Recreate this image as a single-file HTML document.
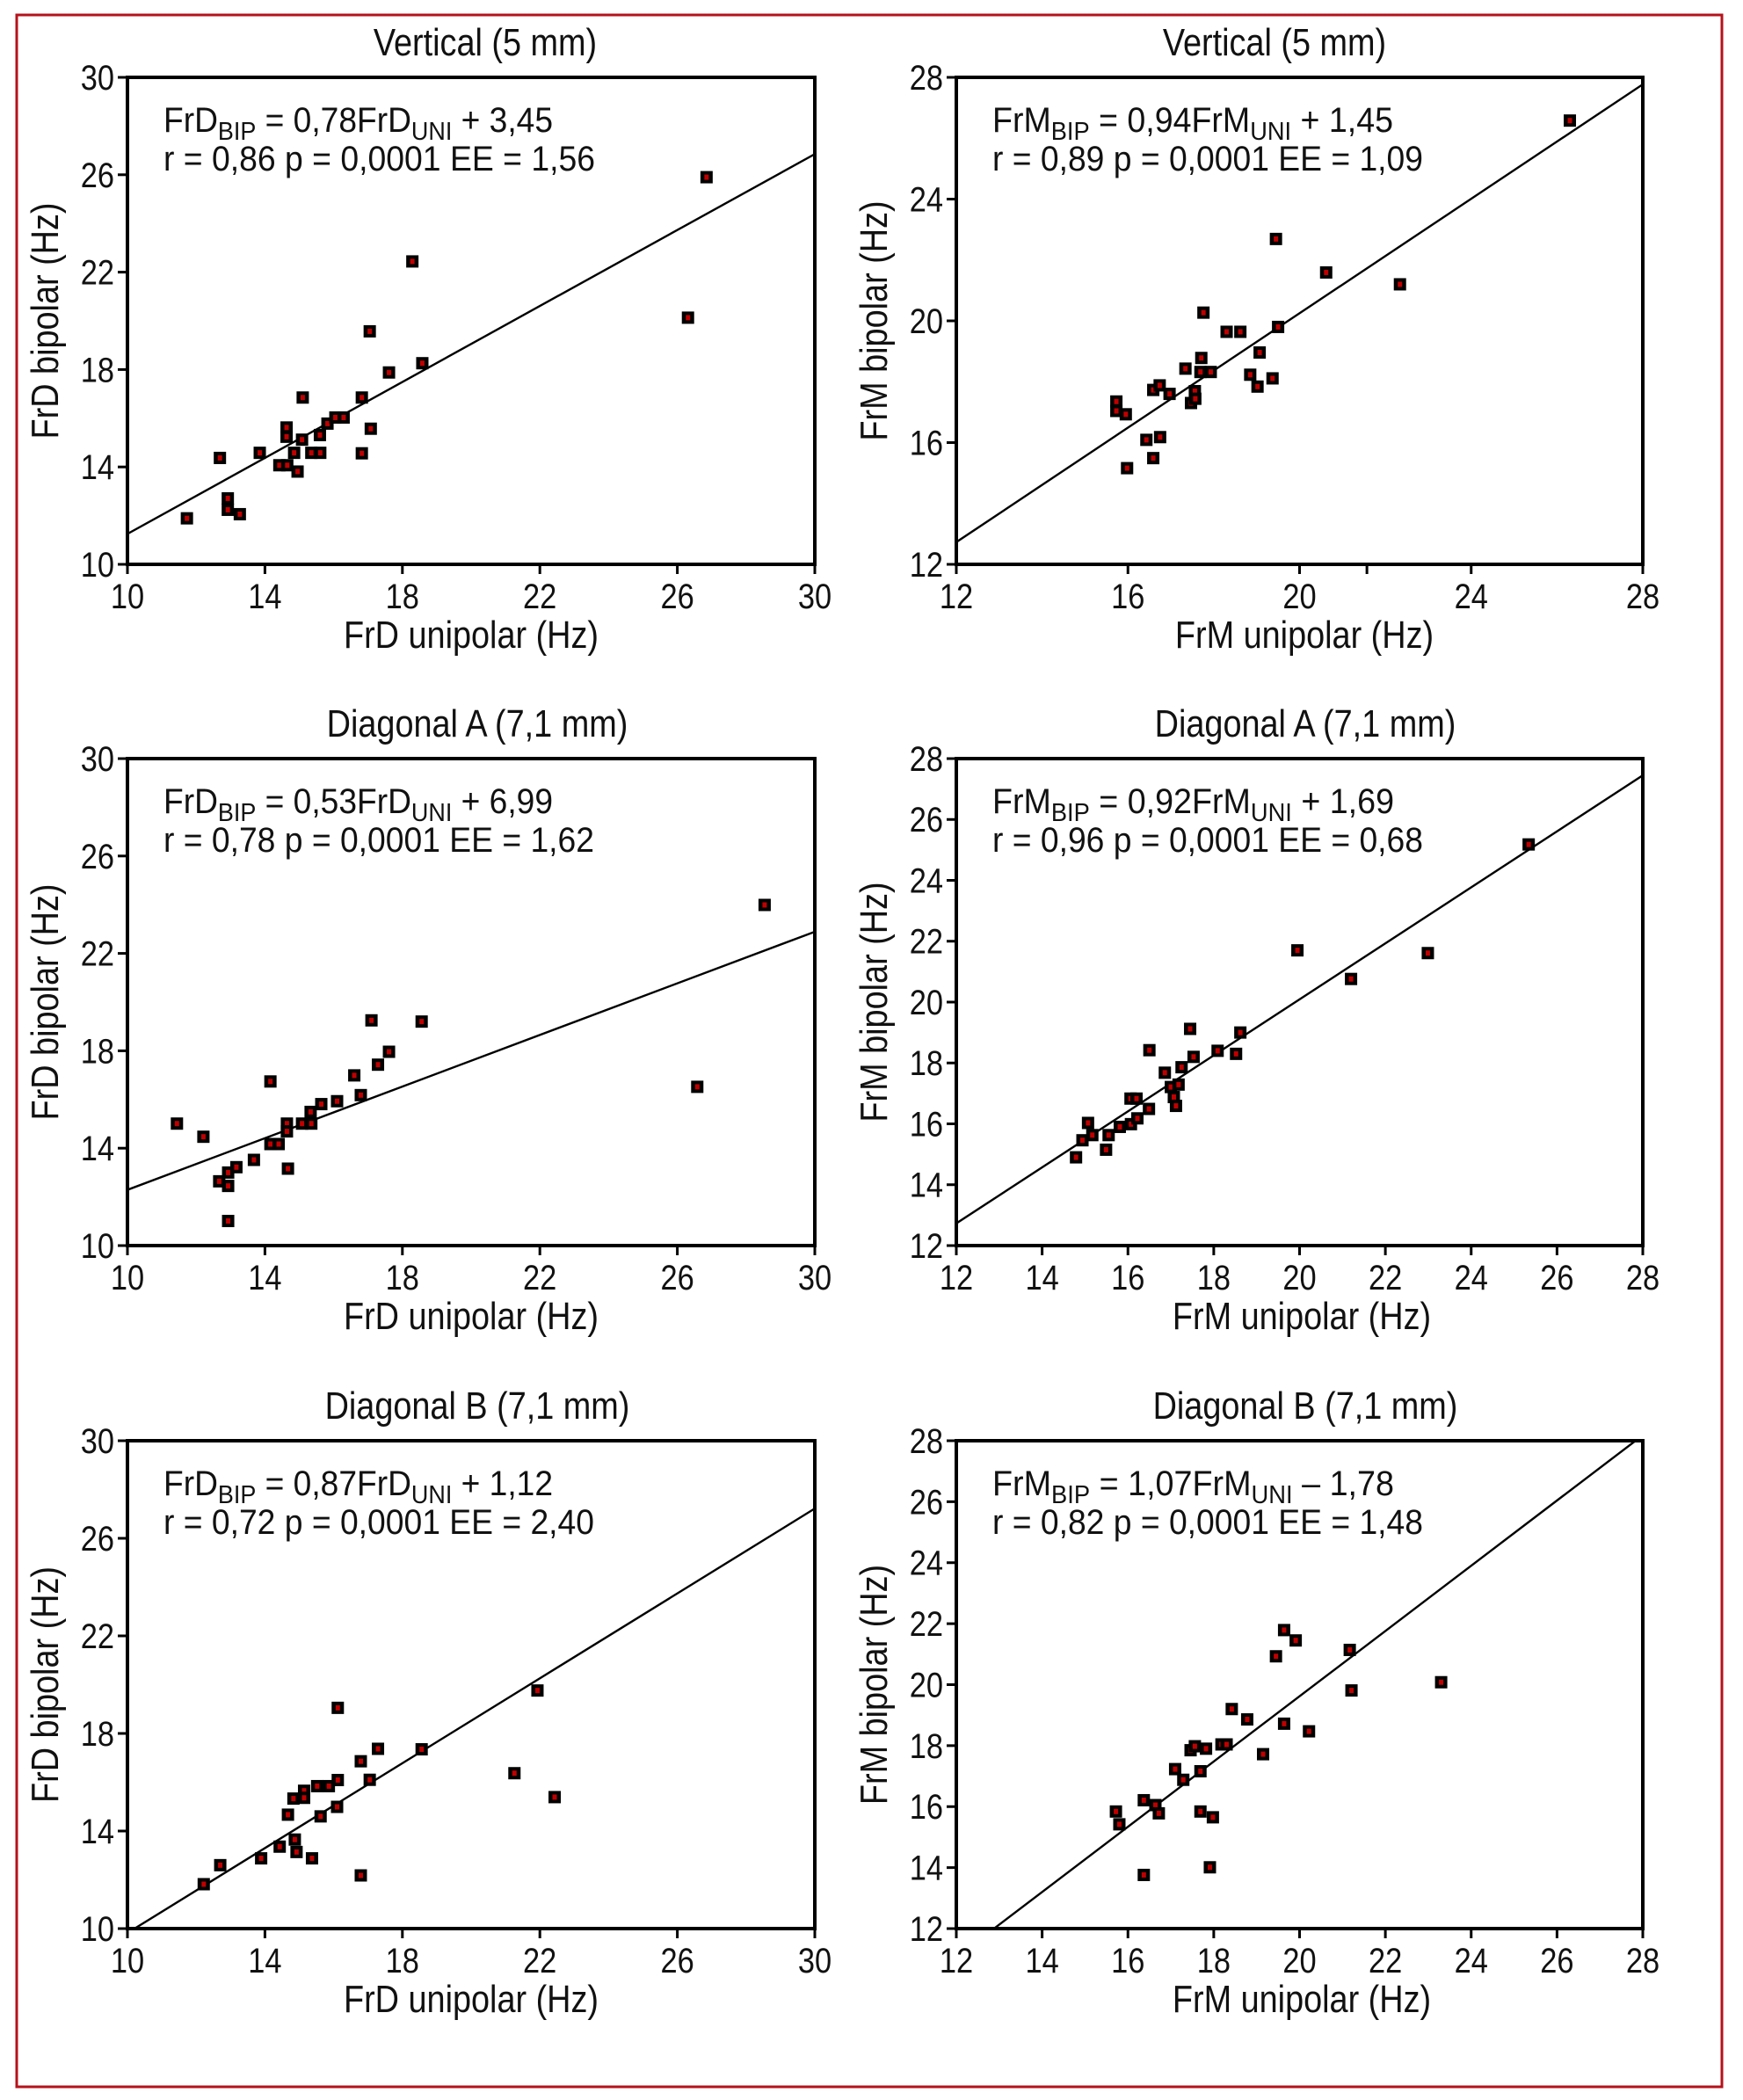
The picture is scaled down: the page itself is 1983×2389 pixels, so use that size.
<!DOCTYPE html>
<html><head><meta charset="utf-8"><style>
html,body{margin:0;padding:0;background:#fff}
svg{display:block}
text{font-family:"Liberation Sans",Arial,sans-serif;fill:#111}
</style></head><body>
<svg id="fig" xmlns="http://www.w3.org/2000/svg" width="1983" height="2389" viewBox="0 0 1983 2389">
<rect x="19" y="17" width="1940" height="2357" fill="none" stroke="#b5121b" stroke-width="3"/>
</svg>
<script>
// ---- data ----
const p1x=[11.73,12.69,12.92,12.92,13.27,13.85,14.42,14.65,14.63,14.63,14.85,14.95,15.08,15.10,15.35,15.61,15.60,15.82,16.05,16.29,16.82,16.82,17.08,17.05,17.61,18.29,18.58,26.31,26.85];
const p1y=[11.89,14.37,12.71,12.24,12.06,14.58,14.07,14.07,15.62,15.24,14.58,13.81,15.12,16.85,14.58,14.58,15.31,15.78,16.03,16.03,16.85,14.56,15.57,19.57,17.88,22.44,18.26,20.13,25.90];
const p2x=[15.73,15.73,15.95,15.98,16.43,16.59,16.75,16.59,16.74,16.97,17.34,17.47,17.56,17.57,17.71,17.69,17.76,17.93,18.30,18.62,18.85,19.02,19.07,19.37,19.50,19.45,20.62,22.34,26.30];
const p2y=[17.35,17.04,16.93,15.16,16.09,15.49,16.18,17.73,17.88,17.60,18.43,17.30,17.69,17.44,18.78,18.32,20.27,18.32,19.64,19.64,18.23,17.84,18.96,18.11,19.80,22.69,21.59,21.20,26.58];
const p3x=[11.44,12.21,12.67,12.93,12.93,13.17,12.93,13.68,14.16,14.16,14.40,14.64,14.64,14.67,15.08,15.35,15.33,15.64,16.10,16.79,16.60,17.10,17.29,17.61,18.56,26.58,28.54];
const p3y=[15.01,14.47,12.64,13.00,12.45,13.22,11.01,13.52,16.74,14.17,14.17,15.01,14.69,13.16,15.01,15.01,15.49,15.81,15.93,16.18,16.99,19.25,17.43,17.96,19.20,16.52,23.99];
const p4x=[14.79,14.94,15.07,15.17,15.49,15.55,15.81,16.07,16.22,16.06,16.20,16.49,16.50,16.86,17.00,17.18,17.07,17.12,17.25,17.45,17.53,18.09,18.52,18.62,19.95,21.20,22.99,25.34];
const p4y=[14.90,15.46,16.03,15.63,15.15,15.63,15.90,15.99,16.18,16.83,16.83,16.49,18.42,17.68,17.21,17.29,16.88,16.59,17.86,19.12,18.20,18.40,18.30,19.00,21.70,20.76,21.61,25.18];
const p5x=[12.22,12.70,13.89,14.43,14.87,14.92,15.37,14.67,14.83,15.14,15.14,15.52,15.86,15.62,16.10,16.12,16.12,16.79,16.79,17.05,17.29,18.56,21.26,21.93,22.43];
const p5y=[11.82,12.60,12.88,13.36,13.65,13.14,12.88,14.67,15.33,15.65,15.36,15.84,15.84,14.60,14.99,16.09,19.05,16.86,12.18,16.10,17.37,17.35,16.37,19.76,15.39];
const p6x=[15.72,15.80,16.37,16.37,16.64,16.72,17.10,17.29,17.46,17.56,17.82,17.69,17.69,17.91,17.98,18.18,18.30,18.42,18.78,19.15,19.45,19.64,19.91,19.64,20.22,21.17,21.21,23.30];
const p6y=[15.84,15.42,13.76,16.21,16.05,15.78,17.23,16.88,17.85,17.98,17.90,17.16,15.84,14.01,15.65,18.04,18.04,19.20,18.86,17.72,20.93,21.79,21.45,18.72,18.47,21.14,19.81,20.08];
const slopes=[0.78,0.94,0.53,0.92,0.87,1.07];
const intercepts=[3.45,1.45,6.99,1.69,1.12,-1.78];
const frdTicks=[10,14,18,22,26,30];
const frmTicks4=[12,16,20,24,28];
const frmTicks2=[12,14,16,18,20,22,24,26,28];
const titles=["Vertical (5 mm)","Vertical (5 mm)","Diagonal A (7,1 mm)","Diagonal A (7,1 mm)","Diagonal B (7,1 mm)","Diagonal B (7,1 mm)"];
const eq1=[["FrD","0,78FrD","+ 3,45"],["FrM","0,94FrM","+ 1,45"],["FrD","0,53FrD","+ 6,99"],["FrM","0,92FrM","+ 1,69"],["FrD","0,87FrD","+ 1,12"],["FrM","1,07FrM","\u2013 1,78"]];
const eq2=["r = 0,86 p = 0,0001 EE = 1,56","r = 0,89 p = 0,0001 EE = 1,09","r = 0,78 p = 0,0001 EE = 1,62","r = 0,96 p = 0,0001 EE = 0,68","r = 0,72 p = 0,0001 EE = 2,40","r = 0,82 p = 0,0001 EE = 1,48"];

const NS="http://www.w3.org/2000/svg";
const svg=document.getElementById('fig');
function mk(tag,attrs,parent){const e=document.createElementNS(NS,tag);for(const k in attrs)e.setAttribute(k,attrs[k]);(parent||svg).appendChild(e);return e;}

const L=[145,927],R=[1088,1869];
const rows=[[88,642],[863,1417],[1639,2194]];
const panels=[
 {bx:L,by:rows[0],xd:[10,30],yd:[10,30],xt:frdTicks,yt:frdTicks,xs:p1x,ys:p1y,tc:552,xc:536,yl:"FrD bipolar (Hz)",xl:"FrD unipolar (Hz)",w1:443,w2:491,yx:51,extra:[]},
 {bx:R,by:rows[0],xd:[12,28],yd:[12,28],xt:frmTicks4,yt:frmTicks4,xs:p2x,ys:p2y,tc:1450,xc:1484,yl:"FrM bipolar (Hz)",xl:"FrM unipolar (Hz)",w1:456,w2:490,yx:994,extra:[21.57]},
 {bx:L,by:rows[1],xd:[10,30],yd:[10,30],xt:frdTicks,yt:frdTicks,xs:p3x,ys:p3y,tc:543,xc:536,yl:"FrD bipolar (Hz)",xl:"FrD unipolar (Hz)",w1:443,w2:490,yx:51,extra:[]},
 {bx:R,by:rows[1],xd:[12,28],yd:[12,28],xt:frmTicks2,yt:frmTicks2,xs:p4x,ys:p4y,tc:1485,xc:1481,yl:"FrM bipolar (Hz)",xl:"FrM unipolar (Hz)",w1:457,w2:490,yx:994,extra:[]},
 {bx:L,by:rows[2],xd:[10,30],yd:[10,30],xt:frdTicks,yt:frdTicks,xs:p5x,ys:p5y,tc:543,xc:536,yl:"FrD bipolar (Hz)",xl:"FrD unipolar (Hz)",w1:443,w2:490,yx:51,extra:[]},
 {bx:R,by:rows[2],xd:[12,28],yd:[12,28],xt:frmTicks2,yt:frmTicks2,xs:p6x,ys:p6y,tc:1485,xc:1481,yl:"FrM bipolar (Hz)",xl:"FrM unipolar (Hz)",w1:457,w2:490,yx:994,extra:[]}
];

panels.forEach((P,i)=>{
 const g=mk('g',{});
 
 
 const x0=P.bx[0],x1=P.bx[1],y0=P.by[0],y1=P.by[1];
 const sx=v=>x0+(v-P.xd[0])/(P.xd[1]-P.xd[0])*(x1-x0);
 const sy=v=>y1-(v-P.yd[0])/(P.yd[1]-P.yd[0])*(y1-y0);
 const t=mk('text',{x:P.tc,y:y0-25,'font-size':44,'text-anchor':'middle',transform:`translate(${P.tc},0) scale(0.86,1) translate(${-P.tc},0)`},g);
 t.textContent=titles[i];
 
 
 const cp=mk('clipPath',{id:'c'+i},g);mk('rect',{x:x0,y:y0,width:x1-x0,height:y1-y0},cp);
 const ln=mk('line',{x1:sx(P.xd[0]),y1:sy(slopes[i]*P.xd[0]+intercepts[i]),x2:sx(P.xd[1]),y2:sy(slopes[i]*P.xd[1]+intercepts[i]),stroke:'#000','stroke-width':2.4,'clip-path':`url(#c${i})`},g);
 
 
 P.xs.forEach((xv,j)=>{
  const cx=sx(xv),cy=sy(P.ys[j]);
  const m=mk('g',{},g);
  
  
  mk('rect',{x:cx-7,y:cy-7,width:14,height:14,fill:'#000'},m);
  mk('rect',{x:cx-2.5,y:cy-3,width:5,height:6,fill:'#c00000'},m);
 });
 const bx=mk('rect',{x:x0,y:y0,width:x1-x0,height:y1-y0,fill:'none',stroke:'#000','stroke-width':4},g);
 
 
 P.xt.concat(P.extra).forEach(v=>{mk('line',{x1:sx(v),y1:y1,x2:sx(v),y2:y1+11,stroke:'#000','stroke-width':3},g);});
 P.xt.forEach(v=>{
  const tx=mk('text',{x:sx(v),y:y1+50,'font-size':40,'text-anchor':'middle',transform:`translate(${sx(v)},0) scale(0.86,1) translate(${-sx(v)},0)`},g);
  tx.textContent=v;
  
  
 });
 P.yt.forEach(v=>{
  mk('line',{x1:x0-11,y1:sy(v),x2:x0,y2:sy(v),stroke:'#000','stroke-width':3},g);
  const ty=mk('text',{x:x0-15,y:sy(v)+14,'font-size':40,'text-anchor':'end',transform:`translate(${x0-15},0) scale(0.86,1) translate(${-(x0-15)},0)`},g);
  ty.textContent=v;
  
  
 });
 const xl=mk('text',{x:P.xc,y:y1+95,'font-size':44,'text-anchor':'middle',transform:`translate(${P.xc},0) scale(0.86,1) translate(${-P.xc},0)`},g);
 xl.textContent=P.xl;
 
 
 const yc=(y0+y1)/2;
 const yl=mk('text',{x:0,y:0,'font-size':44,'text-anchor':'middle',transform:`translate(${P.yx+15},${yc}) rotate(-90) scale(0.86,1)`},g);
 yl.textContent=P.yl;
 
 
 const e1=mk('text',{x:x0+41,y:y0+62,'font-size':40,textLength:P.w1,lengthAdjust:'spacingAndGlyphs'},g);
 
 
 const q=eq1[i];
 const a=mk('tspan',{},e1);a.textContent=q[0];
 const b=mk('tspan',{'font-size':29,dy:9},e1);b.textContent='BIP';
 const c=mk('tspan',{dy:-9},e1);c.textContent=' = '+q[1];
 const d=mk('tspan',{'font-size':29,dy:9},e1);d.textContent='UNI';
 const f=mk('tspan',{dy:-9},e1);f.textContent=' '+q[2];
 const e2=mk('text',{x:x0+41,y:y0+106,'font-size':40,textLength:P.w2,lengthAdjust:'spacingAndGlyphs'},g);
 e2.textContent=eq2[i];
 
 
});
</script>
</body></html>
